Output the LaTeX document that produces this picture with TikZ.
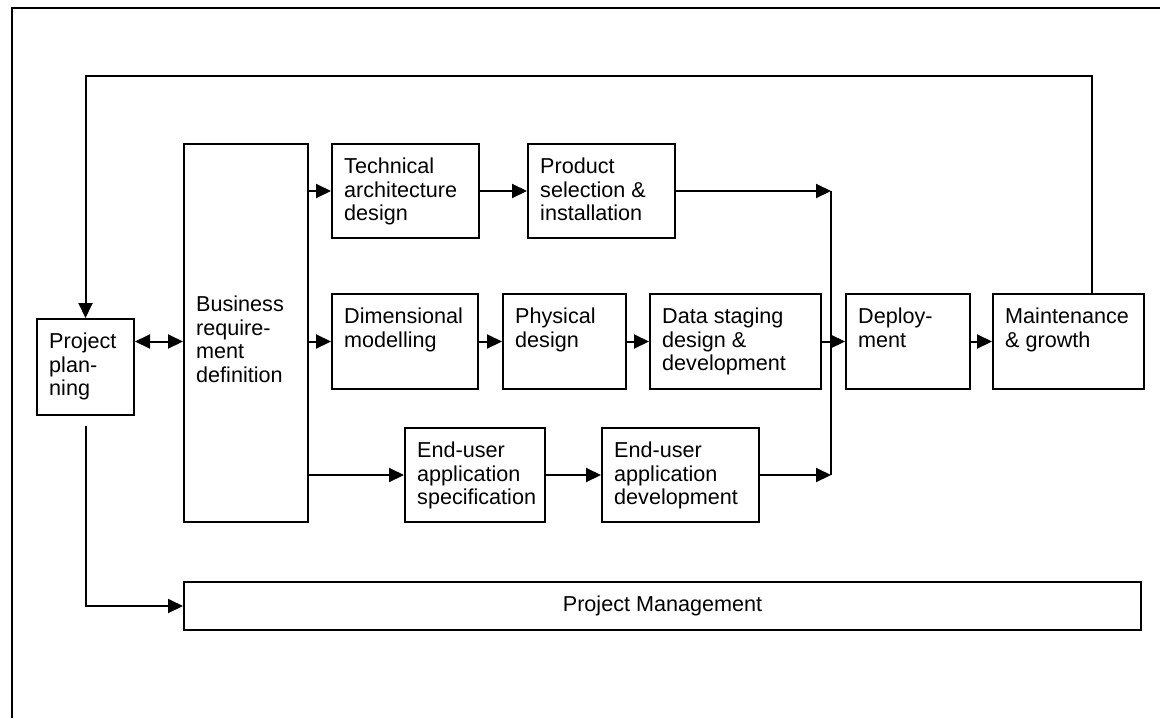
\documentclass[tikz,border=0pt]{standalone}
\usepackage{fontspec}
\setmainfont{Liberation Sans}
\usetikzlibrary{arrows.meta, positioning, calc}
\tikzset{
  phase/.style={draw, line width=1pt, rectangle, inner sep=0pt, anchor=north west},
  phasetext/.style={anchor=north west, align=left, inner xsep=6.4pt, inner ysep=7.2pt,
    font=\fontsize{10.8pt}{11.8pt}\selectfont},
  flow/.style={line width=1pt, -{Triangle[length=7.5pt,width=7pt]}},
  link/.style={line width=1pt}
}
\begin{document}
\begin{tikzpicture}[x=0.5pt, y=-0.5pt]
\useasboundingbox (0,0) rectangle (1160,718);
% frame
\draw[link] (12,718) -- (12,8) -- (1160,8);

% phases: name/x/y/width/height/text
\foreach \n/\x/\y/\w/\h/\t in {
    planning/36/318/97/96/{Project\\plan-\\ning},
    tech/331/143/147/94/{Technical\\architecture\\design},
    product/527/143/147/94/{Product\\selection \&\\installation},
    dim/331/293/146/95/{Dimensional\\modelling},
    phys/502/293/123/95/{Physical\\design},
    staging/649/293/171/95/{Data staging\\design \&\\development},
    deploy/845/293/124/95/{Deploy-\\ment},
    maint/992/293/151/95/{Maintenance\\\& growth},
    spec/404/427/140/94/{End-user\\application\\specification},
    dev/601/427/157/94/{End-user\\application\\development}} {
    \node[phase, minimum width={\w*0.5pt}, minimum height={\h*0.5pt}] (\n) at (\x,\y) {};
    \node[phasetext] (\n-t) at (\n.north west) {\t};
}
\node[phase, minimum width=62pt, minimum height=189pt] (business) at (183,143) {};
\node[phasetext] (business-t) at ($(business.north west)+(0,138)$) {Business\\require-\\ment\\definition};
\node[phase, minimum width=478.5pt, minimum height=24pt,
  font=\fontsize{10.8pt}{11.8pt}\selectfont] (pm) at (183,581) {Project Management};

% connectors
\draw[line width=1pt, {Triangle[length=7.5pt,width=7pt]}-{Triangle[length=7.5pt,width=7pt]}]
  (planning.east |- dim.west) -- (business.west |- dim.west);
\draw[flow] (business.east |- tech.west) -- (tech.west);
\draw[flow] (tech) -- (product);
\draw[flow] (business.east |- dim.west) -- (dim);
\draw[flow] (dim) -- (phys);
\draw[flow] (phys) -- (staging);
\draw[flow] (spec.west -| business.east) -- (spec);
\draw[flow] (spec) -- (dev);
\coordinate (mergetop) at ($(product.east)+(155,0)$);
\coordinate (mergebot) at (mergetop |- dev.east);
\draw[flow] (product) -- (mergetop);
\draw[flow] (dev) -- (mergebot);
\draw[link] (mergetop) -- (mergebot);
\draw[flow] (staging) -- (deploy);
\draw[flow] (deploy) -- (maint);

% feedback loop
\coordinate (loopR) at (1092,76);
\draw[flow] (loopR |- maint.north) -- (loopR) -| (planning.north);
\draw[flow] ($(planning.south)+(0,10)$) |- (pm.west);
\end{tikzpicture}
\end{document}
